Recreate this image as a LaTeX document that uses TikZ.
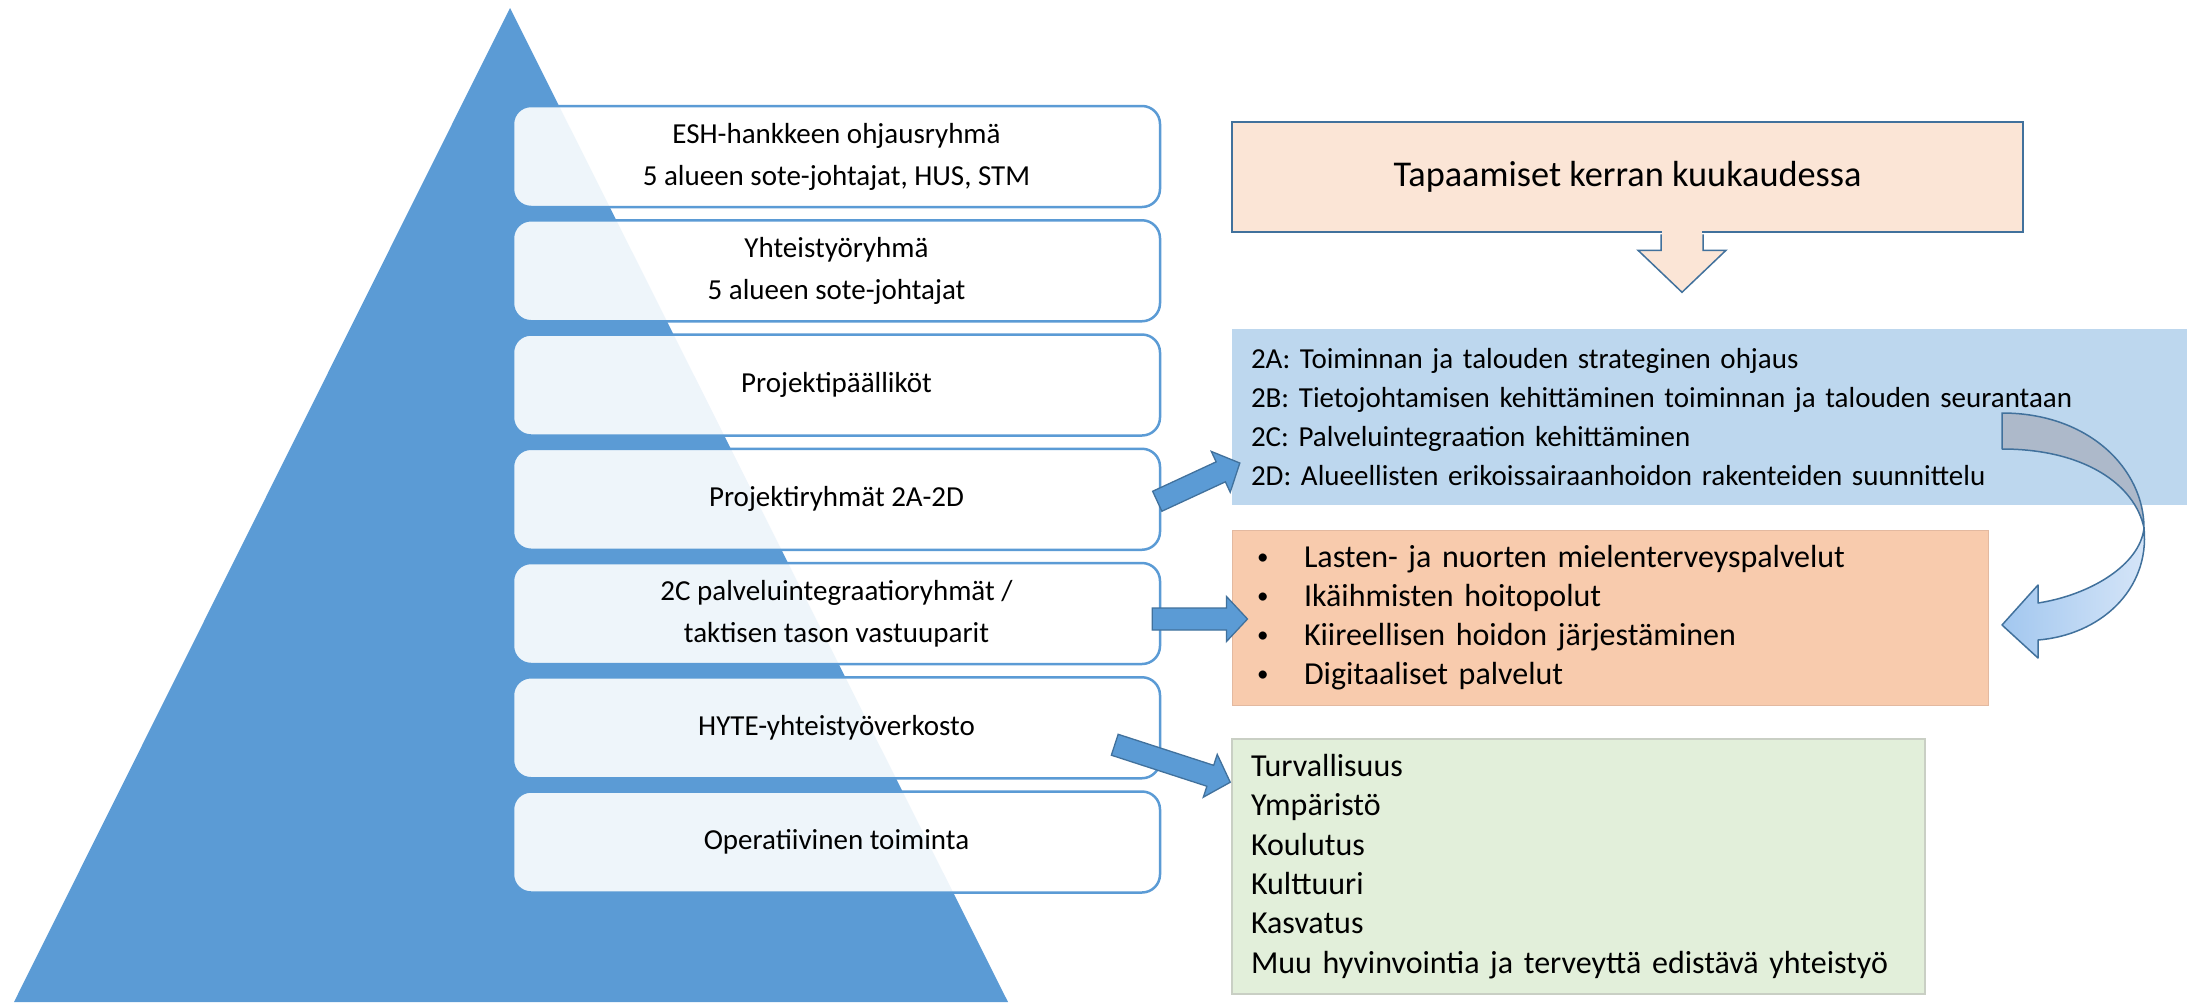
\documentclass[tikz,border=0pt]{standalone}
\usepackage{fontspec}
\setmainfont{Carlito}
\usetikzlibrary{calc}
\definecolor{triblue}{HTML}{5B9BD5}
\definecolor{darkedge}{HTML}{41719C}
\definecolor{pinkfill}{HTML}{FBE5D6}
\definecolor{bluefill}{HTML}{BDD7EE}
\definecolor{orangefill}{HTML}{F8CBAD}
\definecolor{orangeedge}{HTML}{E3B9A0}
\definecolor{greenfill}{HTML}{E2EFDA}
\definecolor{greenedge}{HTML}{C9CFC4}
\definecolor{backarrow}{HTML}{ADB9CA}
\definecolor{frontleft}{HTML}{A2C7EF}
\definecolor{frontright}{HTML}{D7E6F8}
\newcommand{\myblockarrow}[2]{%
  \coordinate (bh) at ($(#2)!21pt!(#1)$);
  \filldraw[blockarrowstyle] ($(#1)!11pt!90:(#2)$) -- ($(bh)!11pt!90:(#2)$) -- ($(bh)!22.5pt!90:(#2)$) -- (#2) -- ($(bh)!22.5pt!-90:(#2)$) -- ($(bh)!11pt!-90:(#2)$) -- ($(#1)!11pt!-90:(#2)$) -- cycle;}
\newcommand{\mybullet}{\makebox[47pt][l]{\raisebox{2.5pt}{\fontsize{23pt}{23pt}\selectfont •}}}
\begin{document}
\begin{tikzpicture}[x=1pt,y=-1pt,
  lbox/.style={draw=triblue, line width=2.5pt, rounded corners=18pt, fill=white, fill opacity=0.9, text opacity=1, draw opacity=1,
    minimum width=647pt, minimum height=101pt, align=center, inner sep=0pt, font=\fontsize{29pt}{42pt}\selectfont},
  pbox/.style={draw=darkedge, line width=2.5pt, fill=pinkfill, minimum width=791pt, minimum height=110pt, inner sep=0pt,
    font=\fontsize{36.3pt}{44pt}\selectfont},
  bbox/.style={fill=bluefill, minimum height=176pt, text width=917pt, inner xsep=19pt, inner ysep=0pt, align=left,
    font=\fontsize{29pt}{39pt}\selectfont},
  obox/.style={fill=orangefill, draw=orangeedge, line width=1pt, minimum height=175pt, text width=706pt, inner xsep=25pt, inner ysep=0pt, align=left,
    font=\fontsize{32pt}{39pt}\selectfont},
  gbox/.style={fill=greenfill, draw=greenedge, line width=1.5pt, minimum height=255pt, text width=655pt, inner xsep=19pt, inner ysep=0pt, align=left,
    font=\fontsize{32pt}{39.4pt}\selectfont},
  blockarrowstyle/.style={fill=triblue, draw=darkedge, line width=1.3pt, line join=miter},
  curvedge/.style={draw=darkedge, line width=1.5pt, line join=round}]
\useasboundingbox (0,0) rectangle (2187,1002);
\fill[white] (0,0) rectangle (2187,1002);
% pyramid
\fill[triblue] (510,8) -- (1008,1002) -- (14,1002) -- cycle;
% level boxes
\node[lbox] (b1) at (836.5,156.5) {ESH-hankkeen ohjausryhmä\\5 alueen sote-johtajat, HUS, STM};
\node[lbox] (b2) at (836.5,270.75) {Yhteistyöryhmä\\5 alueen sote-johtajat};
\node[lbox] (b3) at (836.5,385) {Projektipäälliköt};
\node[lbox] (b4) at (836.5,499.25) {Projektiryhmät 2A-2D};
\node[lbox] (b5) at (836.5,613.5) {2C palveluintegraatioryhmät /\\taktisen tason vastuuparit};
\node[lbox] (b6) at (836.5,727.75) {HYTE-yhteistyöverkosto};
\node[lbox] (b7) at (836.5,842) {Operatiivinen toiminta};
% right side
\node[pbox] (pk) at (1627.5,177) {Tapaamiset kerran kuukaudessa};
\node[bbox] (bb) at (1709.5,417) {2A: Toiminnan ja talouden strateginen ohjaus\\2B: Tietojohtamisen kehittäminen toiminnan ja talouden seurantaan\\2C: Palveluintegraation kehittäminen\\2D: Alueellisten erikoissairaanhoidon rakenteiden suunnittelu};
\node[obox] (ob) at (1610,617.5) {\mybullet Lasten- ja nuorten mielenterveyspalvelut\\\mybullet Ikäihmisten hoitopolut\\\mybullet Kiireellisen hoidon järjestäminen\\\mybullet Digitaaliset palvelut};
\node[gbox] (gb) at (1578.5,866.5) {Turvallisuus\\Ympäristö\\Koulutus\\Kulttuuri\\Kasvatus\\Muu hyvinvointia ja terveyttä edistävä yhteistyö};
% down arrow from the meeting box
\coordinate (dn) at ($(pk.south)+(54.5,0)$);
\fill[pinkfill] ($(dn)+(-20,-3)$) rectangle ($(dn)+(20,10)$);
\filldraw[fill=pinkfill, draw=darkedge, line width=1.5pt, line join=miter] ($(dn)+(-21,1.2)$) -- ($(dn)+(-21,17)$) -- ($(dn)+(-44,17)$) -- ($(dn)+(0,59)$) -- ($(dn)+(44,17)$) -- ($(dn)+(21,17)$) -- ($(dn)+(21,1.2)$);
% block arrows
\coordinate (s1) at ($(b4.east)+(-4,2)$);
\coordinate (t1) at ($(bb.west)+(8,46)$);
\myblockarrow{s1}{t1}
\coordinate (s2) at ($(b5.east)+(-9,5.5)$);
\coordinate (t2) at ($(ob.west)+(16,1.5)$);
\myblockarrow{s2}{t2}
\coordinate (s3) at ($(b6.east)+(-46.5,17)$);
\coordinate (t3) at ($(gb.north west)+(-1,44)$);
\myblockarrow{s3}{t3}
% curved arrow
\filldraw[curvedge, fill=backarrow] (2002,413) .. controls (2090,413) and (2144,470) .. (2144,528)
  .. controls (2135,485) and (2085,449) .. (2002,449) -- cycle;
\filldraw[curvedge, left color=frontleft, right color=frontright] (2144,528) .. controls (2150,590) and (2100,635) .. (2038,640)
  -- (2038,658) -- (2002,625) -- (2038,585) -- (2038,603)
  .. controls (2090,595) and (2140,565) .. (2144,528) -- cycle;
\end{tikzpicture}
\end{document}
